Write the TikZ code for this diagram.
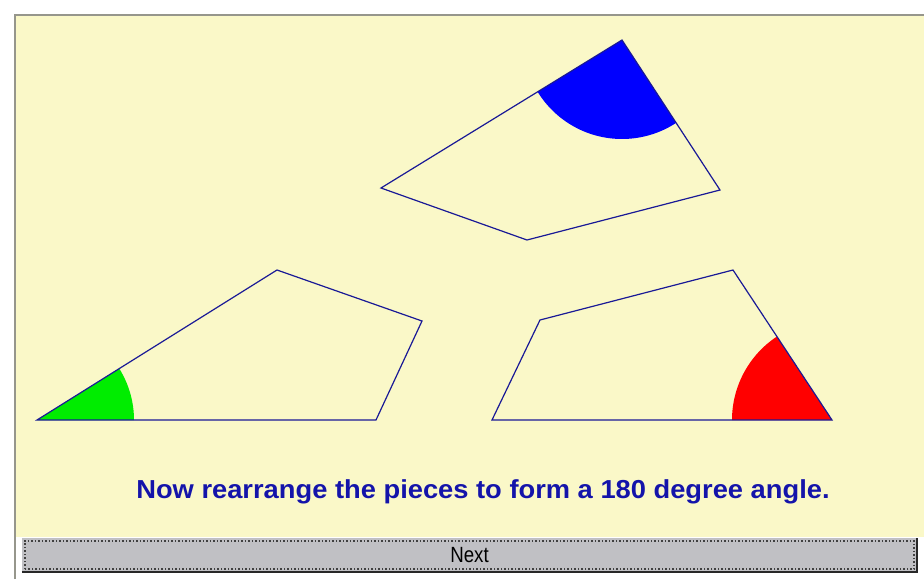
\documentclass[tikz,border=0pt]{standalone}
\usepackage{fontspec}
\setmainfont{Liberation Sans}
\newfontfamily\promptfont[FakeStretch=1.05]{Liberation Sans}
\newfontfamily\buttonfont[FakeStretch=0.85]{Liberation Sans}
\definecolor{paneyellow}{RGB}{250,248,200}
\definecolor{framegray}{RGB}{150,150,140}
\definecolor{edgenavy}{RGB}{25,25,150}
\definecolor{promptblue}{RGB}{20,20,170}
\definecolor{buttongray}{RGB}{192,192,196}
\definecolor{shadowgray}{RGB}{40,40,40}
\usetikzlibrary{calc}

\begin{document}
\begin{tikzpicture}[x=1pt, y=-1pt,
    piece/.style={draw=edgenavy, line width=1.2pt, line join=miter},
    wedge/.style={line width=0pt},
    prompt/.style={font=\promptfont\bfseries\fontsize{26}{30}\selectfont, text=promptblue},
    button/.style={fill=buttongray, draw=none, minimum width=895pt, minimum height=34pt, inner sep=0pt}
]
\useasboundingbox (0,0) rectangle (924,579);
\fill[white] (0,0) rectangle (924,579);

% --- Window pane ---
\fill[paneyellow] (16,16) rectangle (924,537);
\draw[framegray, line width=2pt] (15,579) -- (15,15) -- (924,15);

% --- Corners of the three pieces ---
\coordinate (tq_top) at (622,40);
\coordinate (tq_right) at (720,190);
\coordinate (tq_bottom) at (527,240);
\coordinate (tq_left) at (381,188);

\coordinate (lq_corner) at (37,420);
\coordinate (lq_top) at (277,270);
\coordinate (lq_right) at (422,321);
\coordinate (lq_base) at (376,420);

\coordinate (rq_base) at (492,420);
\coordinate (rq_left) at (540,320);
\coordinate (rq_top) at (733,270);
\coordinate (rq_corner) at (832,420);

% --- Marked angles ---
\fill[blue, wedge] (tq_top) -- ++(56.8:99) arc[start angle=56.8, end angle=148.45, radius=99] -- cycle;
\fill[green!93!black, wedge] (lq_corner) -- ++(-32:97) arc[start angle=-32, end angle=0, radius=97] -- cycle;
\fill[red, wedge] (rq_corner) -- ++(180:100) arc[start angle=180, end angle=236.6, radius=100] -- cycle;

% --- Pieces ---
\draw[piece] (tq_top) -- (tq_right) -- (tq_bottom) -- (tq_left) -- cycle;
\draw[piece] (lq_corner) -- (lq_top) -- (lq_right) -- (lq_base) -- cycle;
\draw[piece] (rq_base) -- (rq_left) -- (rq_top) -- (rq_corner) -- cycle;

% --- Instruction ---
\node[prompt] (instruction) at (483,492) {Now rearrange the pieces to form a 180 degree angle.};

% --- Next button ---
\node[button] (next) at (469.5,555) {};
\draw[shadowgray, line width=1.8pt] (next.south west) -- (next.south east) -- (next.north east);
\draw[black!75, line width=1.5pt, dotted] ($(next.south west)+(3,-3)$) rectangle ($(next.north east)+(-3,3)$);
\node[font=\buttonfont\fontsize{22}{26}\selectfont] (nextlabel) at (next.center) {Next};

\end{tikzpicture}
\end{document}
